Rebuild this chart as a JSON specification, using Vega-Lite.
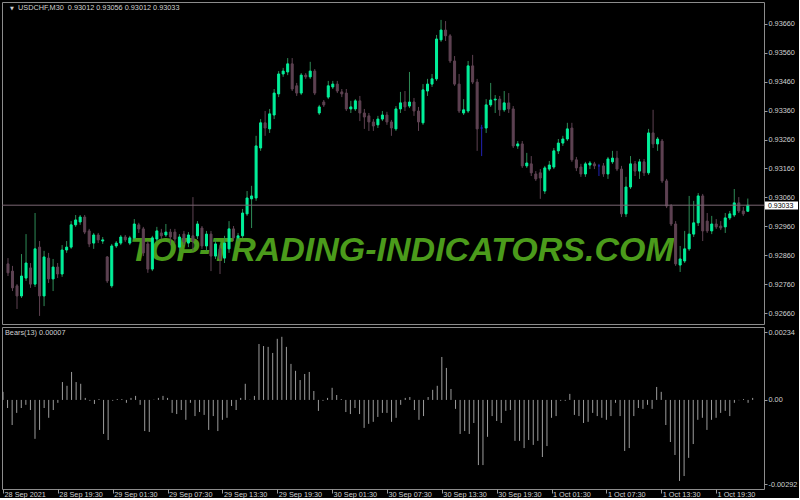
{
"$schema": "https://vega.github.io/schema/vega-lite/v6.json",
"background": "#000000",
"padding": {"left": 1, "top": 1, "right": 0, "bottom": 0},
"spacing": 1,
"config": {"view": {"stroke": "#8c8c8c", "strokeWidth": 1}, "axis": {"labelFont": "Liberation Sans", "labelFontSize": 7.3, "labelColor": "#d0d0d0", "tickColor": "#9a9a9a", "domain": false, "grid": false, "labelOverlap": false}},
"resolve": {"scale": {"x": "independent", "y": "independent"}},
"data": {"values": [
{"i":0,"o":0.9283,"h":0.9285,"l":0.92788,"c":0.92799,"b":0.00028},
{"i":1,"o":0.92805,"h":0.92823,"l":0.92736,"c":0.92747,"b":-0.00028},
{"i":2,"o":0.92754,"h":0.9276,"l":0.92674,"c":0.92719,"b":-0.00087},
{"i":3,"o":0.92719,"h":0.92864,"l":0.92712,"c":0.92788,"b":-0.00045},
{"i":4,"o":0.92781,"h":0.92933,"l":0.92771,"c":0.92833,"b":-0.00028},
{"i":5,"o":0.92816,"h":0.92833,"l":0.92747,"c":0.9276,"b":-0.00017},
{"i":6,"o":0.9276,"h":0.93006,"l":0.9275,"c":0.92882,"b":-0.00035},
{"i":7,"o":0.92888,"h":0.92909,"l":0.9265,"c":0.92719,"b":-0.00135},
{"i":8,"o":0.92719,"h":0.92875,"l":0.92684,"c":0.92854,"b":-0.00104},
{"i":9,"o":0.9285,"h":0.92868,"l":0.92764,"c":0.92778,"b":-0.00028},
{"i":10,"o":0.92778,"h":0.92847,"l":0.92736,"c":0.92819,"b":-0.00062},
{"i":11,"o":0.92819,"h":0.92833,"l":0.92781,"c":0.92795,"b":-0.00035},
{"i":12,"o":0.92795,"h":0.92895,"l":0.92785,"c":0.92878,"b":-0.0001},
{"i":13,"o":0.92878,"h":0.92909,"l":0.92868,"c":0.92888,"b":0.00062},
{"i":14,"o":0.92888,"h":0.92978,"l":0.92882,"c":0.92965,"b":0.00049},
{"i":15,"o":0.92965,"h":0.92999,"l":0.92958,"c":0.92982,"b":0.00097},
{"i":16,"o":0.92975,"h":0.92999,"l":0.92965,"c":0.92992,"b":0.00062},
{"i":17,"o":0.92992,"h":0.92999,"l":0.92933,"c":0.9294,"b":0.00056},
{"i":18,"o":0.92944,"h":0.92951,"l":0.92888,"c":0.92899,"b":0.00007},
{"i":19,"o":0.92902,"h":0.92937,"l":0.92882,"c":0.9293,"b":-0.00003},
{"i":20,"o":0.9293,"h":0.92937,"l":0.92902,"c":0.92913,"b":-0.00014},
{"i":21,"o":0.92909,"h":0.92923,"l":0.92899,"c":0.92913,"b":0.00003},
{"i":22,"o":0.92854,"h":0.92857,"l":0.92764,"c":0.92771,"b":-0.00118},
{"i":23,"o":0.92754,"h":0.92899,"l":0.92747,"c":0.92892,"b":-0.00139},
{"i":24,"o":0.92892,"h":0.92909,"l":0.92885,"c":0.92902,"b":-0.00003},
{"i":25,"o":0.92902,"h":0.9293,"l":0.92895,"c":0.92923,"b":0.00003},
{"i":26,"o":0.92923,"h":0.9293,"l":0.92906,"c":0.92913,"b":0.00003},
{"i":27,"o":0.92902,"h":0.92927,"l":0.92895,"c":0.9292,"b":-0.0001},
{"i":28,"o":0.9292,"h":0.92985,"l":0.92913,"c":0.92968,"b":0.00007},
{"i":29,"o":0.92965,"h":0.92972,"l":0.92937,"c":0.92951,"b":0.00014},
{"i":30,"o":0.92951,"h":0.92958,"l":0.92857,"c":0.92868,"b":-0.00017},
{"i":31,"o":0.92899,"h":0.92909,"l":0.92799,"c":0.92812,"b":-0.00108},
{"i":32,"o":0.92812,"h":0.92927,"l":0.92805,"c":0.9292,"b":-0.00111},
{"i":33,"o":0.92916,"h":0.92958,"l":0.92909,"c":0.92944,"b":0.00001},
{"i":34,"o":0.92937,"h":0.92951,"l":0.92916,"c":0.92927,"b":0.00007},
{"i":35,"o":0.9293,"h":0.92968,"l":0.92923,"c":0.9294,"b":0.00014},
{"i":36,"o":0.9294,"h":0.92951,"l":0.92895,"c":0.92923,"b":0.00007},
{"i":37,"o":0.9294,"h":0.92951,"l":0.92902,"c":0.92916,"b":-0.00045},
{"i":38,"o":0.92888,"h":0.92933,"l":0.92875,"c":0.92923,"b":-0.00049},
{"i":39,"o":0.92933,"h":0.92944,"l":0.92895,"c":0.92906,"b":-0.00035},
{"i":40,"o":0.92902,"h":0.9294,"l":0.92888,"c":0.9293,"b":-0.00069},
{"i":41,"o":0.92927,"h":0.93061,"l":0.92875,"c":0.92909,"b":-0.0001},
{"i":42,"o":0.92927,"h":0.92978,"l":0.92916,"c":0.92968,"b":-0.00056},
{"i":43,"o":0.92954,"h":0.92961,"l":0.92882,"c":0.92892,"b":-0.00042},
{"i":44,"o":0.92892,"h":0.92944,"l":0.92875,"c":0.92933,"b":-0.00052},
{"i":45,"o":0.92933,"h":0.92944,"l":0.92805,"c":0.92857,"b":-0.00104},
{"i":46,"o":0.92857,"h":0.92916,"l":0.92847,"c":0.92899,"b":-0.00056},
{"i":47,"o":0.92882,"h":0.92895,"l":0.92795,"c":0.92847,"b":-0.00108},
{"i":48,"o":0.9285,"h":0.92927,"l":0.92833,"c":0.92902,"b":-0.00069},
{"i":49,"o":0.92882,"h":0.92978,"l":0.92868,"c":0.92951,"b":-0.00062},
{"i":50,"o":0.92951,"h":0.92961,"l":0.92909,"c":0.9292,"b":-0.00021},
{"i":51,"o":0.9292,"h":0.92937,"l":0.92909,"c":0.92927,"b":-0.00035},
{"i":52,"o":0.92927,"h":0.9302,"l":0.9292,"c":0.93006,"b":0.00007},
{"i":53,"o":0.93003,"h":0.93082,"l":0.92996,"c":0.93058,"b":0.00056},
{"i":54,"o":0.93055,"h":0.931,"l":0.92954,"c":0.93065,"b":0.00001},
{"i":55,"o":0.93058,"h":0.93273,"l":0.93048,"c":0.93238,"b":0.00014},
{"i":56,"o":0.93231,"h":0.93331,"l":0.93221,"c":0.93318,"b":0.00194},
{"i":57,"o":0.93318,"h":0.93359,"l":0.93273,"c":0.933,"b":0.00187},
{"i":58,"o":0.93297,"h":0.93366,"l":0.93283,"c":0.93349,"b":0.00184},
{"i":59,"o":0.93345,"h":0.93435,"l":0.93331,"c":0.93421,"b":0.00163},
{"i":60,"o":0.93418,"h":0.93497,"l":0.93407,"c":0.93487,"b":0.00212},
{"i":61,"o":0.93487,"h":0.93508,"l":0.93477,"c":0.93497,"b":0.00219},
{"i":62,"o":0.93494,"h":0.93542,"l":0.93483,"c":0.93522,"b":0.00184},
{"i":63,"o":0.93522,"h":0.93542,"l":0.93428,"c":0.93435,"b":0.00125},
{"i":64,"o":0.93446,"h":0.93456,"l":0.93411,"c":0.93421,"b":0.00101},
{"i":65,"o":0.93421,"h":0.9349,"l":0.93414,"c":0.93483,"b":0.00069},
{"i":66,"o":0.93483,"h":0.9349,"l":0.9347,"c":0.93477,"b":0.0009},
{"i":67,"o":0.93477,"h":0.93529,"l":0.9347,"c":0.93497,"b":0.00097},
{"i":68,"o":0.93497,"h":0.93504,"l":0.93414,"c":0.93421,"b":0.00031},
{"i":69,"o":0.93352,"h":0.9338,"l":0.93345,"c":0.93373,"b":-0.00038},
{"i":70,"o":0.9339,"h":0.93397,"l":0.93373,"c":0.9338,"b":-0.00003},
{"i":71,"o":0.93407,"h":0.93463,"l":0.934,"c":0.93446,"b":0.00007},
{"i":72,"o":0.93442,"h":0.93463,"l":0.93435,"c":0.93452,"b":0.00042},
{"i":73,"o":0.93452,"h":0.93463,"l":0.93421,"c":0.93428,"b":0.00017},
{"i":74,"o":0.93425,"h":0.93435,"l":0.93407,"c":0.93418,"b":0.00003},
{"i":75,"o":0.93421,"h":0.93435,"l":0.93359,"c":0.93366,"b":-0.00042},
{"i":76,"o":0.93366,"h":0.93394,"l":0.93352,"c":0.93373,"b":-0.00049},
{"i":77,"o":0.93366,"h":0.934,"l":0.93359,"c":0.93394,"b":-0.00028},
{"i":78,"o":0.93394,"h":0.93411,"l":0.93324,"c":0.93352,"b":-0.00049},
{"i":79,"o":0.93352,"h":0.93366,"l":0.93297,"c":0.93338,"b":-0.00097},
{"i":80,"o":0.93342,"h":0.93352,"l":0.9329,"c":0.93321,"b":-0.00083},
{"i":81,"o":0.93321,"h":0.93331,"l":0.9329,"c":0.93307,"b":-0.00076},
{"i":82,"o":0.93311,"h":0.93342,"l":0.933,"c":0.93331,"b":-0.00059},
{"i":83,"o":0.93331,"h":0.93359,"l":0.93324,"c":0.93345,"b":-0.00045},
{"i":84,"o":0.93345,"h":0.93356,"l":0.93311,"c":0.93321,"b":-0.00045},
{"i":85,"o":0.93321,"h":0.93328,"l":0.93273,"c":0.933,"b":-0.00076},
{"i":86,"o":0.93297,"h":0.93376,"l":0.9329,"c":0.93366,"b":-0.00062},
{"i":87,"o":0.93366,"h":0.93425,"l":0.93352,"c":0.93387,"b":-0.00017},
{"i":88,"o":0.9339,"h":0.93428,"l":0.93359,"c":0.93373,"b":0.00007},
{"i":89,"o":0.93376,"h":0.93494,"l":0.93369,"c":0.9339,"b":0.0001},
{"i":90,"o":0.9339,"h":0.93404,"l":0.93342,"c":0.93359,"b":-0.00035},
{"i":91,"o":0.93359,"h":0.93373,"l":0.9329,"c":0.93321,"b":-0.00069},
{"i":92,"o":0.93318,"h":0.93452,"l":0.93311,"c":0.93432,"b":-0.00056},
{"i":93,"o":0.93428,"h":0.9347,"l":0.93411,"c":0.93452,"b":0.0001},
{"i":94,"o":0.93452,"h":0.93487,"l":0.93442,"c":0.9347,"b":0.00035},
{"i":95,"o":0.9347,"h":0.93622,"l":0.93463,"c":0.93608,"b":0.00049},
{"i":96,"o":0.93605,"h":0.93674,"l":0.93598,"c":0.93639,"b":0.00149},
{"i":97,"o":0.93639,"h":0.9367,"l":0.93601,"c":0.93619,"b":0.00111},
{"i":98,"o":0.93619,"h":0.93625,"l":0.93525,"c":0.93532,"b":0.00038},
{"i":99,"o":0.93532,"h":0.93549,"l":0.93446,"c":0.93452,"b":-0.00031},
{"i":100,"o":0.93452,"h":0.93487,"l":0.93352,"c":0.93359,"b":-0.00118},
{"i":101,"o":0.93352,"h":0.934,"l":0.93345,"c":0.93363,"b":-0.00108},
{"i":102,"o":0.93359,"h":0.93532,"l":0.93352,"c":0.93515,"b":-0.00118},
{"i":103,"o":0.93515,"h":0.93553,"l":0.93452,"c":0.93459,"b":-0.0008},
{"i":104,"o":0.93459,"h":0.9347,"l":0.93221,"c":0.93297,"b":-0.00226},
{"i":105,"o":0.933,"h":0.93311,"l":0.93203,"c":0.933,"b":-0.00226},
{"i":106,"o":0.933,"h":0.934,"l":0.93283,"c":0.9338,"b":-0.00128},
{"i":107,"o":0.9338,"h":0.93456,"l":0.93373,"c":0.93397,"b":-0.00056},
{"i":108,"o":0.93397,"h":0.93414,"l":0.93352,"c":0.934,"b":-0.00073},
{"i":109,"o":0.934,"h":0.93411,"l":0.93342,"c":0.93363,"b":-0.0008},
{"i":110,"o":0.93363,"h":0.93428,"l":0.93356,"c":0.93387,"b":-0.00038},
{"i":111,"o":0.93387,"h":0.93421,"l":0.93352,"c":0.93366,"b":-0.00035},
{"i":112,"o":0.93366,"h":0.93376,"l":0.93231,"c":0.93238,"b":-0.00142},
{"i":113,"o":0.93238,"h":0.93255,"l":0.93228,"c":0.93245,"b":-0.00142},
{"i":114,"o":0.93245,"h":0.93255,"l":0.93162,"c":0.93169,"b":-0.00167},
{"i":115,"o":0.93169,"h":0.93214,"l":0.93162,"c":0.93179,"b":-0.00139},
{"i":116,"o":0.93176,"h":0.93203,"l":0.93134,"c":0.93145,"b":-0.00156},
{"i":117,"o":0.93141,"h":0.93151,"l":0.93117,"c":0.93124,"b":-0.00142},
{"i":118,"o":0.93145,"h":0.93158,"l":0.93055,"c":0.93127,"b":-0.00198},
{"i":119,"o":0.93082,"h":0.93169,"l":0.93072,"c":0.93162,"b":-0.0016},
{"i":120,"o":0.93158,"h":0.93186,"l":0.93151,"c":0.93172,"b":-0.00062},
{"i":121,"o":0.93165,"h":0.93231,"l":0.93158,"c":0.93221,"b":-0.00056},
{"i":122,"o":0.93221,"h":0.93262,"l":0.9321,"c":0.93248,"b":-0.00003},
{"i":123,"o":0.93248,"h":0.93273,"l":0.93238,"c":0.93262,"b":-0.00003},
{"i":124,"o":0.93262,"h":0.93318,"l":0.93255,"c":0.93297,"b":0.00021},
{"i":125,"o":0.933,"h":0.93318,"l":0.93183,"c":0.9319,"b":-0.00052},
{"i":126,"o":0.9319,"h":0.932,"l":0.93151,"c":0.93162,"b":-0.00056},
{"i":127,"o":0.93165,"h":0.93176,"l":0.93131,"c":0.93141,"b":-0.0008},
{"i":128,"o":0.93141,"h":0.93183,"l":0.93131,"c":0.93176,"b":-0.00076},
{"i":129,"o":0.93172,"h":0.93186,"l":0.93158,"c":0.93179,"b":-0.00045},
{"i":130,"o":0.93176,"h":0.93183,"l":0.93158,"c":0.93169,"b":-0.00056},
{"i":131,"o":0.93169,"h":0.93176,"l":0.93134,"c":0.93169,"b":-0.00062},
{"i":132,"o":0.93169,"h":0.93179,"l":0.93131,"c":0.93141,"b":-0.00069},
{"i":133,"o":0.93141,"h":0.932,"l":0.93124,"c":0.93193,"b":-0.00056},
{"i":134,"o":0.93183,"h":0.93221,"l":0.93176,"c":0.93196,"b":-0.0001},
{"i":135,"o":0.93196,"h":0.93221,"l":0.93151,"c":0.93158,"b":-0.00056},
{"i":136,"o":0.93158,"h":0.93169,"l":0.92992,"c":0.93003,"b":-0.00177},
{"i":137,"o":0.93003,"h":0.93131,"l":0.92992,"c":0.93096,"b":-0.00167},
{"i":138,"o":0.93096,"h":0.93203,"l":0.93089,"c":0.93176,"b":-0.00056},
{"i":139,"o":0.93176,"h":0.93186,"l":0.93134,"c":0.93151,"b":-0.00028},
{"i":140,"o":0.93151,"h":0.93193,"l":0.93124,"c":0.93183,"b":-0.00031},
{"i":141,"o":0.93183,"h":0.93193,"l":0.93134,"c":0.93145,"b":-0.00017},
{"i":142,"o":0.93145,"h":0.93297,"l":0.93138,"c":0.93283,"b":-0.00031},
{"i":143,"o":0.93283,"h":0.93363,"l":0.93231,"c":0.93245,"b":0.00045},
{"i":144,"o":0.93245,"h":0.93269,"l":0.93221,"c":0.93262,"b":0.00028},
{"i":145,"o":0.93255,"h":0.93262,"l":0.9311,"c":0.93117,"b":-0.00087},
{"i":146,"o":0.93117,"h":0.93124,"l":0.93023,"c":0.9303,"b":-0.00146},
{"i":147,"o":0.9303,"h":0.93037,"l":0.92961,"c":0.92968,"b":-0.00191},
{"i":148,"o":0.92968,"h":0.92978,"l":0.92823,"c":0.9283,"b":-0.00281},
{"i":149,"o":0.92826,"h":0.92892,"l":0.92802,"c":0.92847,"b":-0.00264},
{"i":150,"o":0.9284,"h":0.92944,"l":0.92833,"c":0.92882,"b":-0.00201},
{"i":151,"o":0.92882,"h":0.93065,"l":0.92875,"c":0.92933,"b":-0.00153},
{"i":152,"o":0.92933,"h":0.93048,"l":0.92923,"c":0.92972,"b":-0.00069},
{"i":153,"o":0.92972,"h":0.93075,"l":0.92961,"c":0.93065,"b":-0.00062},
{"i":154,"o":0.93065,"h":0.93072,"l":0.92909,"c":0.92944,"b":-0.00104},
{"i":155,"o":0.92978,"h":0.93006,"l":0.92937,"c":0.92944,"b":-0.00069},
{"i":156,"o":0.92944,"h":0.92996,"l":0.92933,"c":0.92968,"b":-0.00062},
{"i":157,"o":0.92968,"h":0.92985,"l":0.92951,"c":0.92958,"b":-0.00045},
{"i":158,"o":0.92961,"h":0.92978,"l":0.92947,"c":0.92954,"b":-0.00038},
{"i":159,"o":0.92958,"h":0.93006,"l":0.92937,"c":0.92989,"b":-0.00056},
{"i":160,"o":0.92989,"h":0.93013,"l":0.92982,"c":0.93003,"b":-0.0001},
{"i":161,"o":0.92999,"h":0.93089,"l":0.92992,"c":0.93041,"b":-0.00001},
{"i":162,"o":0.93041,"h":0.93061,"l":0.93006,"c":0.93013,"b":0.00003},
{"i":163,"o":0.93013,"h":0.93027,"l":0.92996,"c":0.93003,"b":-0.0001},
{"i":164,"o":0.93012,"h":0.93056,"l":0.93012,"c":0.93033,"b":0.00007}
]},
"vconcat": [
{
"width": 762, "height": 322,
"layer": [
{"data": {"values": [{"t": "TOP-TRADING-INDICATORS.COM"}]},
 "mark": {"type": "text", "font": "Liberation Sans", "fontSize": 34, "fontWeight": "bold", "fontStyle": "italic", "color": "#4b9b1b", "align": "center", "baseline": "middle"},
 "encoding": {"x": {"datum": 87.3, "type": "quantitative", "axis": null}, "y": {"datum": 0.92876, "type": "quantitative"}, "text": {"field": "t"}}},
{"mark": {"type": "rule", "strokeWidth": 1},
 "encoding": {
  "x": {"field": "i", "type": "quantitative", "scale": {"domain": [-0.219, 166.48], "nice": false, "zero": false}, "axis": null},
  "y": {"field": "l", "type": "quantitative", "scale": {"domain": [0.92622, 0.93736], "nice": false, "zero": false},
        "axis": {"orient": "right", "title": null, "values": [0.9266, 0.9276, 0.9286, 0.9296, 0.9306, 0.9316, 0.9326, 0.9336, 0.9346, 0.9356, 0.9366], "tickCount": 30, "format": ".5f", "tickSize": 3, "labelPadding": 1, "labelBaseline": "middle", "labelOverlap": false}},
  "y2": {"field": "h"},
  "color": {"condition": [{"test": "datum.c == datum.o", "value": "#2222b4"}, {"test": "datum.c > datum.o", "value": "#2e8b57"}], "value": "#5e4252"}
 }},
{"mark": {"type": "bar", "size": 2, "strokeWidth": 1},
 "encoding": {
  "x": {"field": "i", "type": "quantitative", "axis": null},
  "y": {"field": "o", "type": "quantitative"},
  "y2": {"field": "c"},
  "fill": {"condition": [{"test": "datum.c == datum.o", "value": "#2222b4"}, {"test": "datum.c > datum.o", "value": "#00f09a"}], "value": "#5e4252"},
  "stroke": {"condition": [{"test": "datum.c == datum.o", "value": "#2222b4"}, {"test": "datum.c > datum.o", "value": "#00f09a"}], "value": "#5e4252"}
 }},
{"data": {"values": [{}]},
 "mark": {"type": "rule", "color": "#7a6673", "strokeWidth": 1},
 "encoding": {"y": {"datum": 0.93033, "type": "quantitative"}}},
{"data": {"values": [{}]},
 "mark": {"type": "point", "shape": "M0,-0.22H2V0.26H0Z", "size": 1089, "filled": true, "fill": "#ffffff", "opacity": 1, "strokeWidth": 0, "xOffset": 1},
 "encoding": {"x": {"value": "width"}, "y": {"datum": 0.93033, "type": "quantitative"}}},
{"data": {"values": [{"t": "0.93033"}]},
 "mark": {"type": "text", "font": "Liberation Sans", "fontSize": 7, "color": "#000000", "align": "left", "baseline": "middle", "dx": 4, "dy": 1},
 "encoding": {"x": {"value": "width"}, "y": {"datum": 0.93033, "type": "quantitative"}, "text": {"field": "t"}}},
{"data": {"values": [{"t": "▼"}]},
 "mark": {"type": "text", "font": "DejaVu Sans", "fontSize": 5, "color": "#d0d0d0", "align": "left", "baseline": "top", "dx": 3, "dy": 4},
 "encoding": {"x": {"datum": -0.219, "type": "quantitative", "axis": null}, "y": {"datum": 0.93736, "type": "quantitative"}, "text": {"field": "t"}}},
{"data": {"values": [{"t": "USDCHF,M30\u00a0\u00a00.93012 0.93056 0.93012 0.93033"}]},
 "mark": {"type": "text", "font": "Liberation Sans", "fontSize": 7.3, "color": "#d0d0d0", "align": "left", "baseline": "top", "dx": 11, "dy": 2},
 "encoding": {"x": {"datum": -0.219, "type": "quantitative", "axis": null}, "y": {"datum": 0.93736, "type": "quantitative"}, "text": {"field": "t"}}}
]
},
{
"width": 762, "height": 162,
"layer": [
{"mark": {"type": "rule", "color": "#9c9c9c", "strokeWidth": 1},
 "encoding": {
  "x": {"field": "i", "type": "quantitative", "scale": {"domain": [-0.219, 166.48], "nice": false, "zero": false},
        "axis": {"title": null, "values": [0, 12, 24, 36, 48, 60, 72, 84, 96, 108, 120, 132, 144, 156], "tickCount": 40, "labelExpr": "['28 Sep 2021','28 Sep 19:30','29 Sep 01:30','29 Sep 07:30','29 Sep 13:30','29 Sep 19:30','30 Sep 01:30','30 Sep 07:30','30 Sep 13:30','30 Sep 19:30','1 Oct 01:30','1 Oct 07:30','1 Oct 13:30','1 Oct 19:30'][round(datum.value/12)]", "labelAlign": "left", "labelBaseline": "top", "labelPadding": -3, "tickSize": 4, "labelOffset": 1, "labelOverlap": false, "labelBound": false, "labelFlush": false}},
  "y": {"field": "b", "type": "quantitative", "scale": {"domain": [-0.00309, 0.00253], "nice": false, "zero": false},
        "axis": {"orient": "right", "title": null, "values": [0.00234, 0, -0.00292], "tickCount": 10, "labelExpr": "datum.value == 0 ? '0.00' : (datum.value < 0 ? '-' + format(-datum.value, '.5f') : format(datum.value, '.5f'))", "tickSize": 3, "labelPadding": 1, "labelBaseline": "middle", "labelOverlap": false}},
  "y2": {"datum": 0}
 }},
{"data": {"values": [{"t": "Bears(13) 0.00007"}]},
 "mark": {"type": "text", "font": "Liberation Sans", "fontSize": 7.3, "color": "#d0d0d0", "align": "left", "baseline": "top", "dx": 3, "dy": 2},
 "encoding": {"x": {"datum": -0.219, "type": "quantitative"}, "y": {"datum": 0.00253, "type": "quantitative"}, "text": {"field": "t"}}}
]
}
]
}
